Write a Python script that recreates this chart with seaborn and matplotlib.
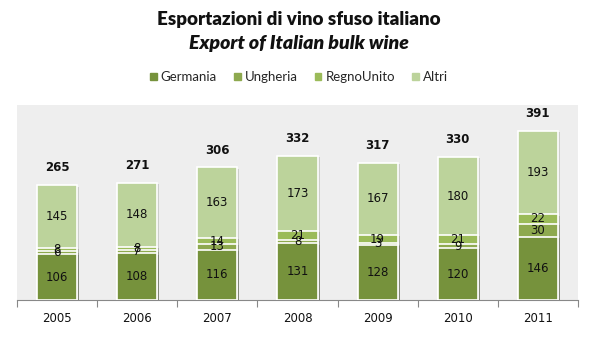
import numpy as np
import pandas as pd
import matplotlib
matplotlib.use("Agg")
import matplotlib.pyplot as plt
import matplotlib.patheffects as pe
import seaborn as sns

years = ["2005", "2006", "2007", "2008", "2009", "2010", "2011"]
germania = [106, 108, 116, 131, 128, 120, 146]
ungheria = [6, 7, 13, 8, 3, 9, 30]
regno_unito = [8, 8, 14, 21, 19, 21, 22]
altri = [145, 148, 163, 173, 167, 180, 193]
totals = [265, 271, 306, 332, 317, 330, 391]

series_names = ["Germania", "Ungheria", "RegnoUnito", "Altri"]
series_vals = [germania, ungheria, regno_unito, altri]
colors = ["#76923c", "#8ea94f", "#9bbb59", "#bcd39b"]

sns.set_theme(style="white")
plt.rcParams["font.family"] = ["DejaVu Sans"]

fig = plt.figure(figsize=(5.98, 3.46), dpi=100)
ax = fig.add_axes([17 / 598, 46 / 346, 561 / 598, 195 / 346])
ax.set_facecolor("#eeeeee")

# cumulative heights: draw tallest layer first so lower layers sit on top
cum = np.cumsum(np.array(series_vals), axis=0)
df = pd.DataFrame({"year": years})
for i in range(len(series_names) - 1, -1, -1):
    df["h"] = cum[i]
    sns.barplot(data=df, x="year", y="h", color=colors[i], width=0.5,
                edgecolor="white", linewidth=1.2, saturation=1, ax=ax,
                zorder=3)

for p in ax.patches:
    p.set_path_effects([pe.SimplePatchShadow(offset=(1.5, -1), alpha=0.18),
                        pe.Normal()])

# segment labels
for i, vals in enumerate(series_vals):
    base = cum[i] - np.array(vals)
    for j, v in enumerate(vals):
        ax.text(j, base[j] + v / 2, str(v), ha="center", va="center",
                fontsize=8.5, color="#111111", zorder=5)

# totals above the stacks
for j, t in enumerate(totals):
    ax.text(j, t + 40, str(t), ha="center", va="center", fontsize=8.5,
            fontweight="bold", color="#111111", zorder=5)

ax.set_ylim(0, 450)
ax.set_xlim(-0.5, len(years) - 0.5)
ax.set_xlabel("")
ax.set_ylabel("")
ax.set_yticks([])
ax.set_xticks(range(len(years)))
ax.set_xticklabels(years, fontsize=8.5, color="#111111")
ax.set_xticks(np.arange(-0.5, len(years), 1.0), minor=True)
ax.tick_params(axis="x", which="major", length=0, pad=9)
ax.tick_params(axis="x", which="minor", length=5, width=0.8, color="#888888",
               direction="out", bottom=True)
for side in ["top", "left", "right"]:
    ax.spines[side].set_visible(False)
ax.spines["bottom"].set_color("#888888")
ax.spines["bottom"].set_linewidth(0.8)

# titles
title_font = ["Lato", "DejaVu Sans"]
fig.text(0.5, 1 - 19 / 346, "Esportazioni di vino sfuso italiano",
         ha="center", va="center", fontsize=13.5, fontweight="heavy",
         family=title_font, color="#111111")
fig.text(0.5, 1 - 44 / 346, "Export of Italian bulk wine",
         ha="center", va="center", fontsize=14, fontweight="heavy",
         style="italic", family=title_font, color="#111111")

# legend
handles = [plt.Rectangle((0, 0), 1, 1, color=c) for c in colors]
fig.legend(handles, series_names, loc="center", bbox_to_anchor=(0.5, 1 - 77 / 346),
           ncol=4, frameon=False, handlelength=0.5, handleheight=0.5,
           handletextpad=0.3, columnspacing=1.3,
           prop={"family": title_font, "size": 9.5})

fig.savefig("out.png", dpi=100, facecolor="white")
